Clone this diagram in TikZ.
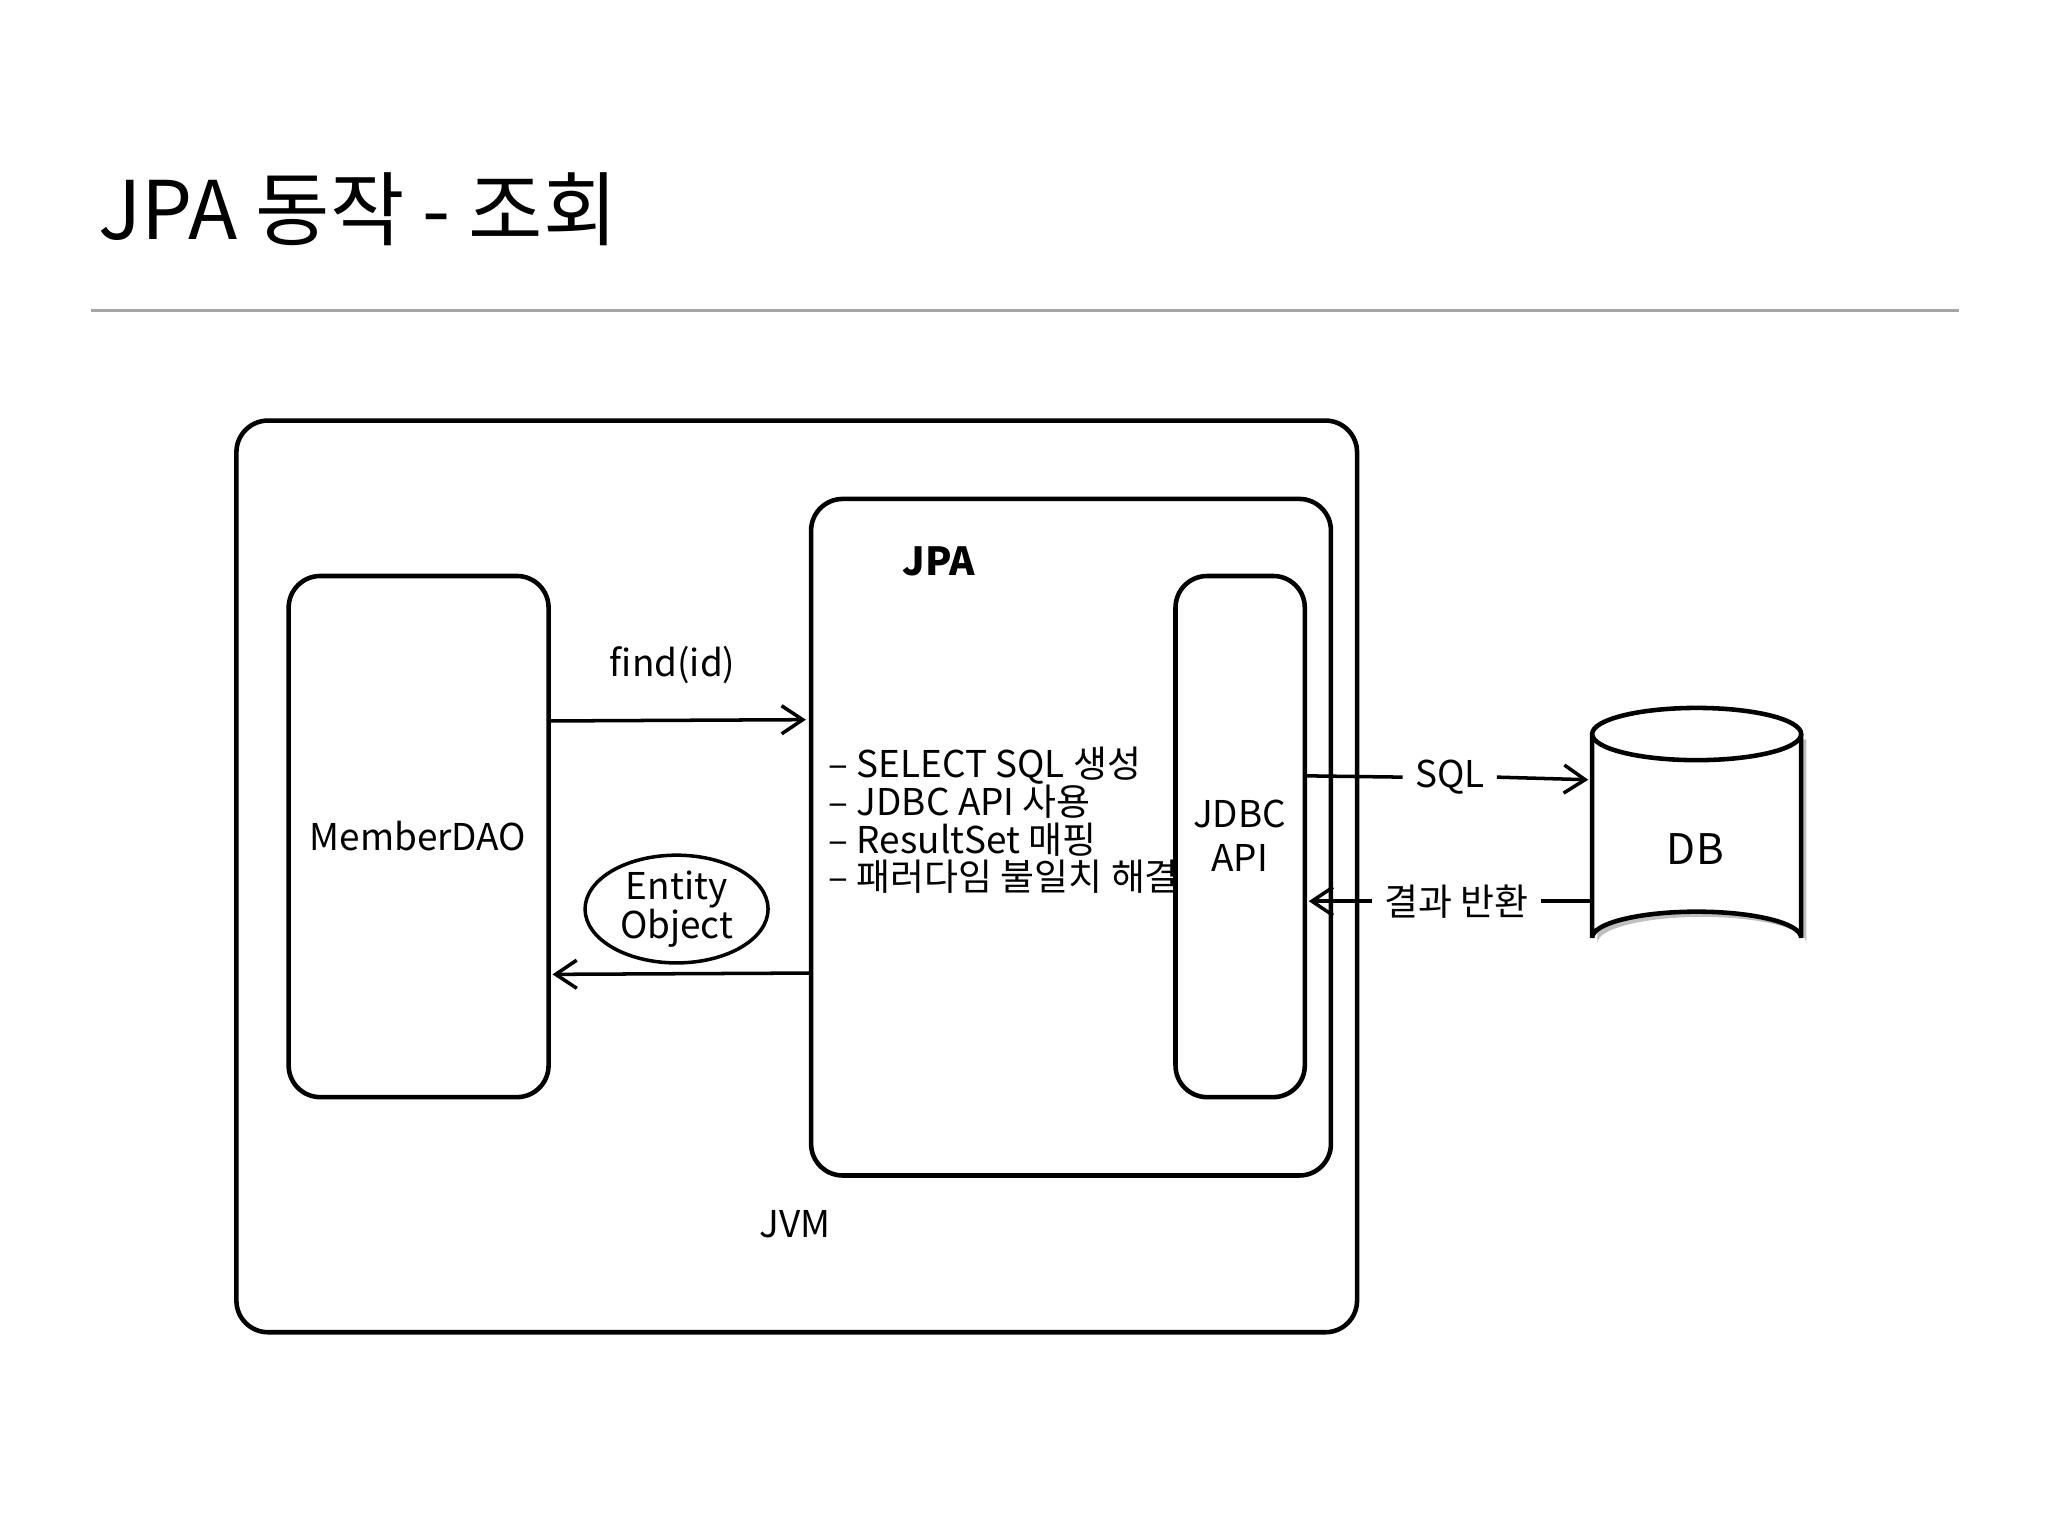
\documentclass[tikz,border=0pt]{standalone}
\usepackage{fontspec}
\setmainfont{Noto Sans CJK KR}
\usetikzlibrary{arrows.meta,shapes.geometric}
\begin{document}
\begin{tikzpicture}[x=0.01306cm,y=-0.01306cm,
  box/.style={draw,line width=1.3pt,rounded corners=9pt},
  lbl/.style={font=\fontsize{10.5}{12.5}\selectfont},
  arr/.style={line width=1pt,-{Straight Barb[length=6pt,width=8pt]}},
  ln/.style={line width=1pt}]
\useasboundingbox (0,0) rectangle (1568,1176);
\node[anchor=base west,font=\fontsize{23}{26}\selectfont,inner sep=0] (title) at (75,183) {JPA 동작 - 조회};
\draw[gray!70,line width=0.8pt] (70,238) -- (1500,238);
\draw[box] (181,322) rectangle (1039,1020);
\draw[box] (621,382) rectangle (1019,900);
\draw[box] (221,441) rectangle (420,840);
\draw[box] (900,441) rectangle (999,840);
\node[lbl] (dao) at (320,640) {MemberDAO};
\node[lbl,font=\fontsize{11}{13}\selectfont\bfseries] (jpa) at (719,430) {JPA};
\node[lbl] (find) at (515,509) {find(id)};
\node[lbl,align=center,inner sep=0] (jdbc) at (949,640) {JDBC\\API};
\node[lbl,align=left,anchor=west,inner sep=0,font=\fontsize{10.5}{10.8}\selectfont] (list) at (634,628) {– SELECT SQL 생성\\– JDBC API 사용\\– ResultSet 매핑\\– 패러다임 불일치 해결};
\node[draw,ellipse,line width=1pt,minimum width=140\pgflinewidth,lbl,align=center,inner sep=0,minimum width=1.83cm,minimum height=1.05cm,font=\fontsize{10.5}{11}\selectfont] (ent) at (518,696) {Entity\\Object};
\node[lbl] (jvm) at (609,937) {JVM};
\coordinate (a1) at (420,552); \coordinate (a2) at (617,551);
\draw[arr] (a1) -- (a2);
\coordinate (b1) at (620,745); \coordinate (b2) at (423,746);
\draw[arr] (b1) -- (b2);
% DB cylinder
\fill[black!25] (1223,566) -- (1223,722) arc[start angle=180,end angle=360,x radius=80,y radius=20] -- (1383,566) -- cycle;
\fill[white,draw=black,line width=1.3pt] (1219,562) -- (1219,718) arc[start angle=180,end angle=360,x radius=80,y radius=20] -- (1379,562);
\draw[fill=white,line width=1.3pt] (1299,562) ellipse[x radius=80,y radius=20];
\node[lbl,font=\fontsize{12}{14}\selectfont] (db) at (1298,650) {DB};
\node[lbl] (sql) at (1110,595) {SQL};
\node[lbl] (res) at (1115,690) {결과 반환};
\coordinate (s1) at (999,594); \coordinate (s2) at (1216,597);
\draw[ln] (s1) -- (sql.west);
\draw[arr] (sql.east) -- (s2);
\coordinate (r1) at (1218,690); \coordinate (r2) at (1002,690);
\draw[ln] (r1) -- (res.east);
\draw[arr] (res.west) -- (r2);
\end{tikzpicture}
\end{document}
